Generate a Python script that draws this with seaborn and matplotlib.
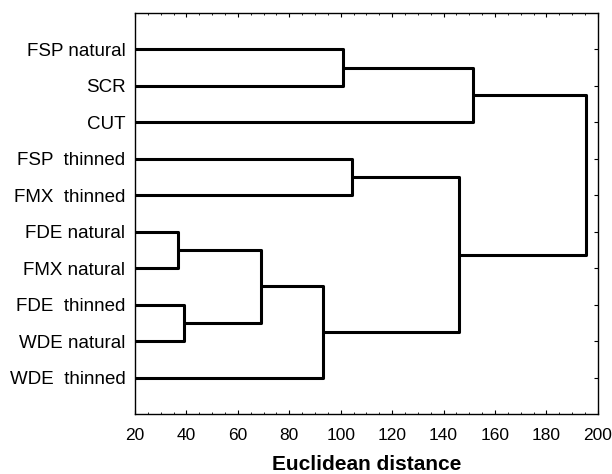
import numpy as np
import pandas as pd
import matplotlib
matplotlib.use("Agg")
import matplotlib.pyplot as plt
import seaborn as sns
from matplotlib.ticker import MultipleLocator

# leaves, top to bottom
labels = ["FSP natural", "SCR", "CUT", "FSP  thinned", "FMX  thinned",
          "FDE natural", "FMX natural", "FDE  thinned", "WDE natural", "WDE  thinned"]

# merges (scipy style: leaves 0-9, new clusters 10+)
merge_left = [5, 7, 10, 12, 0, 3, 15, 14, 17]
merge_right = [6, 8, 11, 9, 1, 4, 13, 2, 16]
merge_height = [36.8, 39.2, 68.9, 93.2, 100.7, 104.5, 146.1, 151.5, 195.2]

sns.set_style("white")
plt.rcParams['font.family'] = ['Liberation Sans', 'DejaVu Sans']
plt.rcParams['text.color'] = 'black'
plt.rcParams['xtick.color'] = 'black'
plt.rcParams['ytick.color'] = 'black'
plt.rcParams['axes.labelcolor'] = 'black'

# node positions
pos = {i: i + 1 for i in range(len(labels))}
hgt = {i: 0.0 for i in range(len(labels))}
rows = []
for k, (a, b, h) in enumerate(zip(merge_left, merge_right, merge_height)):
    node = len(labels) + k
    xs = [hgt[a], h, h, hgt[b]]
    ys = [pos[a], pos[a], pos[b], pos[b]]
    for x, y in zip(xs, ys):
        rows.append({"link": k, "x": x, "y": y})
    pos[node] = (pos[a] + pos[b]) / 2
    hgt[node] = h
df = pd.DataFrame(rows)

fig = plt.figure(figsize=(6.12, 4.74), dpi=100)
ax = fig.add_axes([0.2206, 0.1266, 0.7564, 0.846])
sns.lineplot(data=df, x="x", y="y", units="link", estimator=None, sort=False,
             color="black", lw=2.2, ax=ax, legend=False)

ax.set_xlim(20, 200)
ax.set_ylim(len(labels) + 1, 0)
ax.set_yticks(range(1, len(labels) + 1))
ax.set_yticklabels(labels, fontsize=13.5)
ax.xaxis.set_major_locator(MultipleLocator(20))
ax.xaxis.set_minor_locator(MultipleLocator(5))
ax.tick_params(axis="x", which="major", direction="in", length=3, width=0.8,
               top=True, bottom=True, labelsize=12.5, pad=10)
ax.tick_params(axis="x", which="minor", direction="in", length=1.5, width=0.6,
               top=True, bottom=True)
ax.tick_params(axis="y", which="major", direction="in", left=False, right=True,
               length=3, width=0.8, pad=7)
ax.set_xlabel("Euclidean distance", fontsize=15, fontweight="bold", labelpad=9)
ax.set_ylabel("")
for s in ax.spines.values():
    s.set_linewidth(1.0)
    s.set_color("black")

fig.savefig("out.png", dpi=100)
